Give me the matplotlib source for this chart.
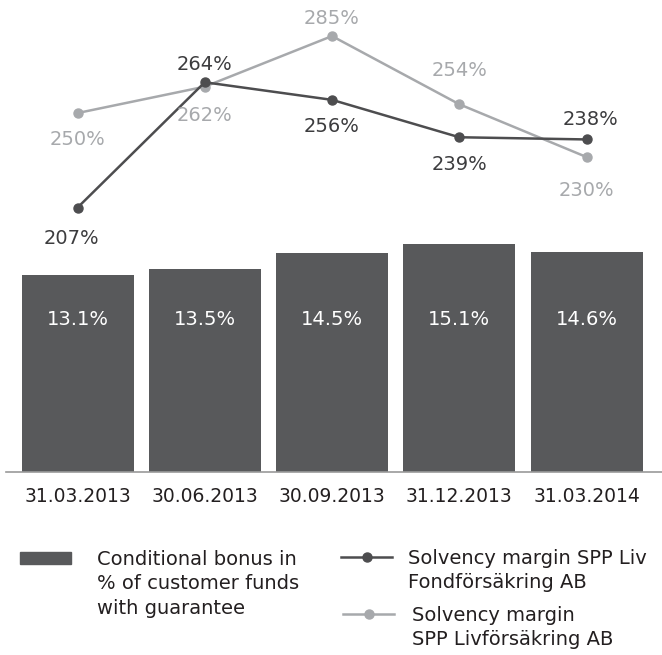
import matplotlib
matplotlib.use('Agg')
import matplotlib.pyplot as plt
from matplotlib.patches import Patch
from matplotlib.lines import Line2D

plt.rcParams['font.family'] = ['DejaVu Sans']

# data
dates = ['31.03.2013', '30.06.2013', '30.09.2013', '31.12.2013', '31.03.2014']
bonus = [13.1, 13.5, 14.5, 15.1, 14.6]
solv_fond = [207, 264, 256, 239, 238]
solv_liv = [250, 262, 285, 254, 230]

# label offsets (pixels) for the line values
fond_offsets = [(-6, -31), (0, 18), (0, -27), (0, -27), (4, 20)]
liv_offsets = [(0, -26), (0, -29), (0, 18), (0, 34), (0, -33)]

bar_col = '#58595b'
dark_col = '#4d4d4f'
light_col = '#a7a9ac'
text_col = '#231f20'

fig = plt.figure(figsize=(6.62, 6.55), dpi=100)
ax = fig.add_axes([6/662, 183/655, 656/662, 472/655])
x = list(range(len(dates)))

ax.bar(x, bonus, width=0.88, color=bar_col)
for xi, v in zip(x, bonus):
    ax.text(xi, 10.1, f'{v:.1f}%', color='white', ha='center', va='center', fontsize=14)

ax.set_xlim(-0.562, 4.593)
ax.set_ylim(0, 31.32)
for s in ['top', 'left', 'right']:
    ax.spines[s].set_visible(False)
ax.spines['bottom'].set_color('#9a9a9a')
ax.spines['bottom'].set_linewidth(1.2)
ax.set_yticks([])
ax.set_xticks(x, dates)
ax.tick_params(axis='x', length=0, pad=10.5, labelsize=13.5, labelcolor=text_col)

ax2 = ax.twinx()
ax2.set_ylim(86.8, 301.4)
ax2.axis('off')
ax2.plot(x, solv_liv, color=light_col, lw=1.8, marker='o', ms=6.5, clip_on=False)
ax2.plot(x, solv_fond, color=dark_col, lw=1.8, marker='o', ms=6.5, clip_on=False)
for xi, v, off in zip(x, solv_fond, fond_offsets):
    ax2.annotate(f'{v}%', (xi, v), xytext=off, textcoords='offset pixels',
                 ha='center', va='center', fontsize=14, color='#3c3c3e')
for xi, v, off in zip(x, solv_liv, liv_offsets):
    ax2.annotate(f'{v}%', (xi, v), xytext=off, textcoords='offset pixels',
                 ha='center', va='center', fontsize=14, color=light_col)

blank = Line2D([], [], linestyle='none')
leg_kw = dict(frameon=False, fontsize=14, borderpad=0, borderaxespad=0,
              labelspacing=0.27, handlelength=2.63, loc='upper left',
              labelcolor=text_col)

fig.legend([Patch(color=bar_col), blank, blank],
           ['Conditional bonus in', '% of customer funds', 'with guarantee'],
           bbox_to_anchor=(20/662, 1-550/655), handleheight=0.52,
           handletextpad=1.34, **leg_kw)
fig.legend([Line2D([], [], color=dark_col, lw=1.8, marker='o', ms=6.5), blank],
           ['Solvency margin SPP Liv', 'Fondförsäkring AB'],
           bbox_to_anchor=(341/662, 1-549/655), handletextpad=0.82, **leg_kw)
fig.legend([Line2D([], [], color=light_col, lw=1.8, marker='o', ms=6.5), blank],
           ['Solvency margin', 'SPP Livförsäkring AB'],
           bbox_to_anchor=(343/662, 1-606/655), handletextpad=0.93, **leg_kw)

fig.savefig('out.png', dpi=100)
